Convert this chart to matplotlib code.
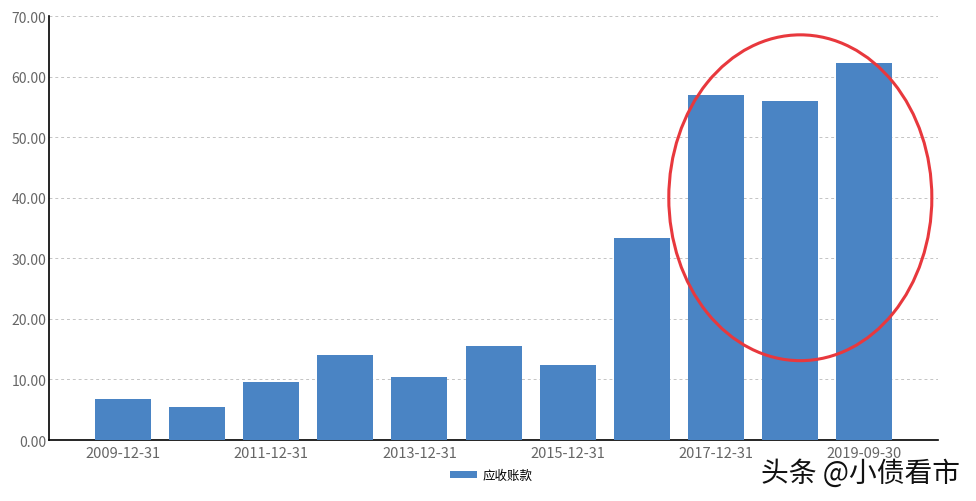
import matplotlib.pyplot as plt
from matplotlib.patches import Ellipse, Patch

plt.rcParams['font.family'] = ['Noto Sans CJK SC', 'DejaVu Sans']

dates = ["2009-12-31", "2010-12-31", "2011-12-31", "2012-12-31", "2013-12-31",
         "2014-12-31", "2015-12-31", "2016-12-31", "2017-12-31", "2018-12-31",
         "2019-09-30"]
receivables = [6.8, 5.45, 9.6, 14.05, 10.4, 15.5, 12.4, 33.4, 56.9, 55.9, 62.2]
series_name = "应收账款"

fig = plt.figure(figsize=(9.76, 5.02), dpi=100)
ax = fig.add_axes([0.0502, 0.1215, 0.911, 0.8445])

x = range(len(dates))
ax.bar(x, receivables, width=0.755, color="#4a84c4", zorder=3)

ax.set_xlim(-1, len(dates))
ax.set_ylim(0, 70)
ax.set_yticks(range(0, 71, 10))
ax.set_yticklabels([f"{v:.2f}" for v in range(0, 71, 10)])
ax.set_xticks(list(x)[::2])
ax.set_xticklabels(dates[::2])
ax.tick_params(axis="both", length=0, labelcolor="#666666")
ax.tick_params(axis="x", pad=4, labelsize=10.5)
ax.tick_params(axis="y", pad=2, labelsize=10)

ax.grid(axis="y", linestyle=(0, (3, 3)), color="#c4c4c4", linewidth=0.7, zorder=0)
for s in ["top", "right"]:
    ax.spines[s].set_visible(False)
ax.spines["left"].set_color("black")
ax.spines["bottom"].set_color("black")
ax.spines["left"].set_linewidth(1.2)
ax.spines["bottom"].set_linewidth(1.2)

# red highlight circle around the last three bars
ell = Ellipse((9.14, 40.0), width=3.55, height=53.8, fill=False,
              edgecolor="#e8383d", linewidth=2.2, zorder=5, clip_on=False)
ax.add_patch(ell)

fig.legend(handles=[Patch(facecolor="#4a84c4", label=series_name)],
           loc="center", bbox_to_anchor=(0.503, 0.051), frameon=False,
           fontsize=9, handlelength=2.2, handleheight=0.6, handletextpad=0.4)

fig.text(0.984, 0.056, "头条 @小债看市", ha="right", va="center",
         fontsize=20, color="#111111")

fig.savefig("out.png", dpi=100)
